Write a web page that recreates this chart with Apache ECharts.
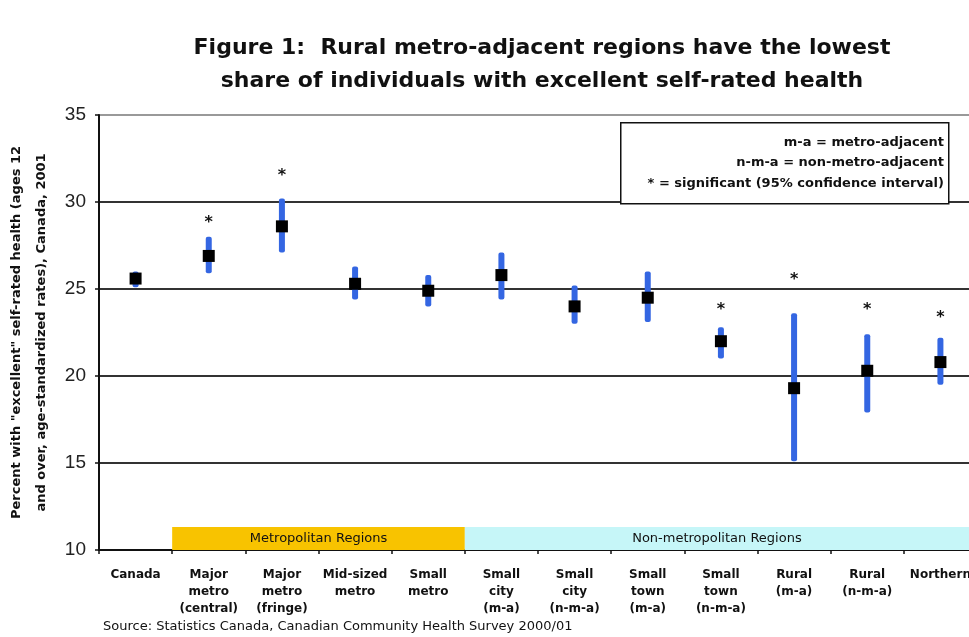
<!DOCTYPE html>
<html>
<head>
<meta charset="utf-8">
<script src="https://cdn.jsdelivr.net/npm/echarts@6/dist/echarts.min.js"></script>
<style>html,body{margin:0;padding:0;background:#fff;}#c{width:969px;height:637px;}</style>
</head>
<body>
<div id="c"></div>
<script>
var categories = ['Canada','Major\nmetro\n(central)','Major\nmetro\n(fringe)','Mid-sized\nmetro','Small\nmetro','Small\ncity\n(m-a)','Small\ncity\n(n-m-a)','Small\ntown\n(m-a)','Small\ntown\n(n-m-a)','Rural\n(m-a)','Rural\n(n-m-a)','Northern'];
var estimate = [25.6, 26.9, 28.6, 25.3, 24.9, 25.8, 24.0, 24.5, 22.0, 19.3, 20.3, 20.8];
var lower    = [25.1, 25.9, 27.1, 24.4, 24.0, 24.4, 23.0, 23.1, 21.0, 15.1, 17.9, 19.5];
var upper    = [26.0, 28.0, 30.2, 26.3, 25.8, 27.1, 25.2, 26.0, 22.8, 23.6, 22.4, 22.2];
var starLevel = [null, 29.0, 31.7, null, null, null, null, null, 24.0, 25.7, 24.0, 23.5];
var regionGroups = [
  {name: 'Metropolitan Regions', from: 1, to: 4},
  {name: 'Non-metropolitan Regions', from: 5, to: 11}
];
var regionBandTop = 11.32;
var yTicks = {min: 10, max: 35, interval: 5};

var FONT = '"DejaVu Sans", "Liberation Sans", Arial, sans-serif';
var NUMFONT = '"Liberation Sans", Arial, sans-serif';
var chart = echarts.init(document.getElementById('c'), null, {renderer: 'canvas'});

var ciData = categories.map(function (c, i) { return [i, lower[i], upper[i]]; });
var estData = categories.map(function (c, i) { return [i, estimate[i]]; });
var starData = [];
starLevel.forEach(function (v, i) { if (v != null) starData.push([i, v]); });
var bandData = regionGroups.map(function (g, k) { return [g.from, g.to, k]; });
var bandColors = ['#F8C300', '#C6F6F8'];

chart.setOption({
  animation: false,
  backgroundColor: '#fff',
  title: {
    text: 'Figure 1:  Rural metro-adjacent regions have the lowest\nshare of individuals with excellent self-rated health',
    left: 537, top: 27, textAlign: 'center',
    textStyle: {fontFamily: FONT, fontSize: 22, fontWeight: 'bold', color: '#111', lineHeight: 33}
  },
  grid: {left: 99, top: 115, width: 878, height: 435, containLabel: false, outerBoundsMode: 'none'},
  xAxis: {
    type: 'category',
    data: categories,
    boundaryGap: true,
    axisLine: {lineStyle: {color: '#111', width: 2}},
    axisTick: {show: true, length: 4, lineStyle: {color: '#111', width: 1.5}},
    axisLabel: {interval: 0, margin: 16, fontFamily: FONT, fontSize: 12, fontWeight: 'bold', color: '#111', lineHeight: 17},
    splitLine: {show: false}
  },
  yAxis: {
    type: 'value',
    min: yTicks.min, max: yTicks.max, interval: yTicks.interval,
    name: 'Percent with "excellent" self-rated health (ages 12\nand over, age-standardized rates), Canada, 2001',
    nameLocation: 'middle', nameRotate: 90, nameGap: 44,
    nameTextStyle: {fontFamily: FONT, fontSize: 13, fontWeight: 'bold', color: '#111', lineHeight: 25},
    axisLine: {show: true, lineStyle: {color: '#111', width: 2}},
    axisTick: {show: true, length: 4, lineStyle: {color: '#111', width: 1.5}},
    axisLabel: {margin: 13, fontFamily: NUMFONT, fontSize: 19, color: '#222'},
    splitLine: {show: true, lineStyle: {color: ['#333', '#333', '#333', '#333', '#333', '#999'], width: 2}}
  },
  series: [
    {
      type: 'custom',
      name: 'bands',
      z: 1,
      silent: true,
      data: bandData,
      renderItem: function (params, api) {
        var from = api.value(0), to = api.value(1), k = api.value(2);
        var bw = api.size([1, 0])[0];
        var p0 = api.coord([from, regionBandTop]);
        var p1 = api.coord([to, yTicks.min]);
        var x0 = p0[0] - bw / 2, x1 = p1[0] + bw / 2;
        return {
          type: 'group',
          children: [
            {type: 'rect', shape: {x: x0, y: p0[1], width: x1 - x0, height: p1[1] - p0[1]}, style: {fill: bandColors[k]}},
            {type: 'text', style: {text: regionGroups[k].name, x: (x0 + Math.min(x1, 969)) / 2, y: (p0[1] + p1[1]) / 2, textAlign: 'center', textVerticalAlign: 'middle', font: '13px ' + FONT, fill: '#111'}}
          ]
        };
      }
    },
    {
      type: 'custom',
      name: 'CI',
      z: 3,
      data: ciData,
      renderItem: function (params, api) {
        var pLo = api.coord([api.value(0), api.value(1)]);
        var pHi = api.coord([api.value(0), api.value(2)]);
        return {type: 'rect', shape: {x: pLo[0] - 3, y: pHi[1], width: 6, height: pLo[1] - pHi[1], r: 2}, style: {fill: '#3466E2'}};
      }
    },
    {
      type: 'scatter',
      name: 'Estimate',
      z: 4,
      symbol: 'rect',
      symbolSize: 12,
      itemStyle: {color: '#000', opacity: 1},
      data: estData
    },
    {
      type: 'custom',
      name: 'Significant',
      z: 4,
      data: starData,
      renderItem: function (params, api) {
        var p = api.coord([api.value(0), api.value(1)]);
        return {type: 'text', style: {text: '*', x: p[0], y: p[1] + 3, textAlign: 'center', textVerticalAlign: 'middle', font: 'bold 16px ' + FONT, fill: '#111'}};
      }
    }
  ],
  graphic: [
    {type: 'rect', left: 620, top: 122, z: 10, shape: {width: 328, height: 81}, style: {fill: '#fff', stroke: '#111', lineWidth: 1.5}},
    {type: 'text', z: 11, style: {text: 'm-a = metro-adjacent\nn-m-a = non-metro-adjacent\n* = significant (95% confidence interval)', x: 944, y: 132, textAlign: 'right', font: 'bold 13px ' + FONT, lineHeight: 20.5, fill: '#111'}},
    {type: 'text', z: 11, style: {text: 'Source: Statistics Canada, Canadian Community Health Survey 2000/01', x: 103, y: 627, textVerticalAlign: 'middle', font: '13px ' + FONT, fill: '#111'}}
  ]
});
</script>
</body>
</html>
